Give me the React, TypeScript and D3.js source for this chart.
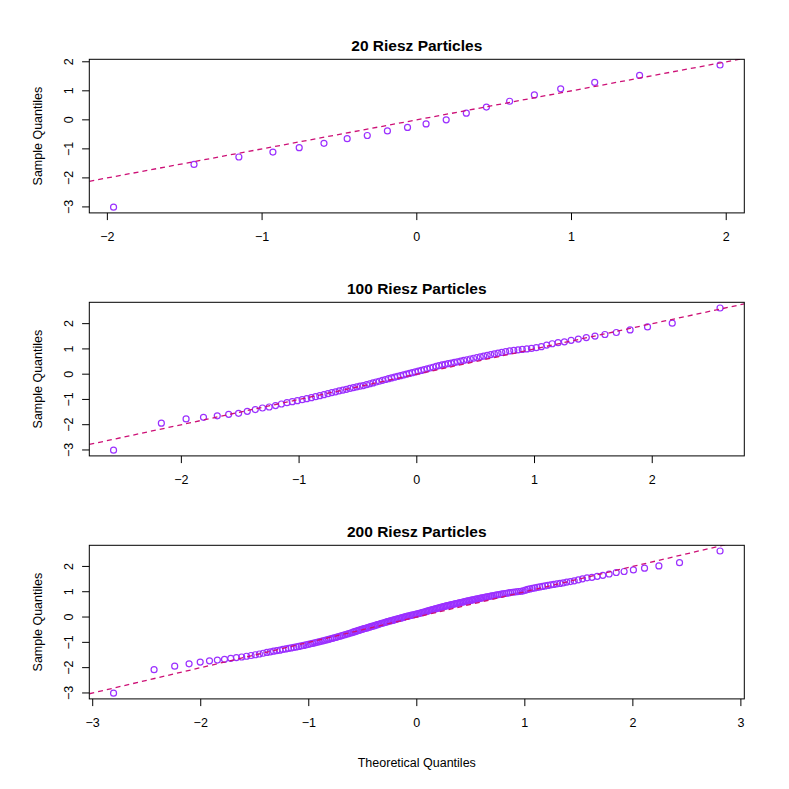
import React from 'react';
import * as d3 from 'd3';

// Theoretical (x) and sample (y) quantiles for each panel
const theo20 = [-1.96, -1.44, -1.15, -0.93, -0.76, -0.6, -0.45, -0.32, -0.19, -0.06,
  0.06, 0.19, 0.32, 0.45, 0.6, 0.76, 0.93, 1.15, 1.44, 1.96];
const sample20 = [-3.01, -1.535, -1.28, -1.11, -0.96, -0.81, -0.65, -0.54, -0.38, -0.26,
  -0.14, 0.0, 0.23, 0.44, 0.64, 0.86, 1.07, 1.29, 1.53, 1.89];

const theo100 = [-2.576, -2.17, -1.96, -1.812, -1.695, -1.598, -1.514, -1.44, -1.372, -1.311,
  -1.254, -1.2, -1.15, -1.103, -1.058, -1.015, -0.974, -0.935, -0.896, -0.86,
  -0.824, -0.789, -0.755, -0.722, -0.69, -0.659, -0.628, -0.598, -0.568, -0.539,
  -0.51, -0.482, -0.454, -0.426, -0.399, -0.372, -0.345, -0.319, -0.292, -0.266,
  -0.24, -0.215, -0.189, -0.164, -0.138, -0.113, -0.088, -0.063, -0.038, -0.0125,
  0.0125, 0.038, 0.063, 0.088, 0.113, 0.138, 0.164, 0.189, 0.215, 0.24,
  0.266, 0.292, 0.319, 0.345, 0.372, 0.399, 0.426, 0.454, 0.482, 0.51,
  0.539, 0.568, 0.598, 0.628, 0.659, 0.69, 0.722, 0.755, 0.789, 0.824,
  0.86, 0.896, 0.935, 0.974, 1.015, 1.058, 1.103, 1.15, 1.2, 1.254,
  1.311, 1.372, 1.44, 1.514, 1.598, 1.695, 1.812, 1.96, 2.17, 2.576];
const sample100 = [-3.01, -1.94, -1.77, -1.71, -1.65, -1.59, -1.55, -1.47, -1.4, -1.34,
  -1.3, -1.245, -1.18, -1.13, -1.09, -1.05, -1.01, -0.97, -0.93, -0.89,
  -0.85, -0.81, -0.77, -0.73, -0.7, -0.66, -0.63, -0.6, -0.565, -0.535,
  -0.505, -0.475, -0.45, -0.415, -0.38, -0.345, -0.31, -0.28, -0.245, -0.21,
  -0.18, -0.15, -0.12, -0.09, -0.06, -0.03, 0.0, 0.03, 0.06, 0.09,
  0.12, 0.15, 0.18, 0.21, 0.245, 0.275, 0.305, 0.335, 0.365, 0.39,
  0.415, 0.44, 0.465, 0.49, 0.52, 0.545, 0.57, 0.6, 0.63, 0.66,
  0.685, 0.715, 0.745, 0.775, 0.8, 0.83, 0.86, 0.89, 0.92, 0.94,
  0.96, 0.98, 1.0, 1.02, 1.05, 1.09, 1.15, 1.205, 1.245, 1.28,
  1.34, 1.39, 1.45, 1.51, 1.57, 1.65, 1.75, 1.87, 2.02, 2.62];

const theo200 = [-2.807, -2.432, -2.241, -2.108, -2.005, -1.919, -1.846, -1.78, -1.722, -1.67,
  -1.621, -1.576, -1.534, -1.495, -1.457, -1.422, -1.388, -1.356, -1.326, -1.296,
  -1.267, -1.24, -1.213, -1.188, -1.163, -1.138, -1.115, -1.092, -1.069, -1.047,
  -1.026, -1.005, -0.984, -0.964, -0.944, -0.925, -0.906, -0.887, -0.868, -0.85,
  -0.832, -0.815, -0.798, -0.781, -0.764, -0.747, -0.731, -0.714, -0.698, -0.683,
  -0.667, -0.651, -0.636, -0.62, -0.605, -0.59, -0.576, -0.561, -0.546, -0.532,
  -0.517, -0.503, -0.489, -0.475, -0.461, -0.447, -0.433, -0.419, -0.405, -0.392,
  -0.378, -0.365, -0.351, -0.338, -0.325, -0.311, -0.298, -0.285, -0.272, -0.259,
  -0.246, -0.233, -0.22, -0.208, -0.195, -0.182, -0.169, -0.157, -0.144, -0.132,
  -0.119, -0.107, -0.094, -0.082, -0.069, -0.056, -0.044, -0.031, -0.019, -0.006,
  0.006, 0.019, 0.031, 0.044, 0.056, 0.069, 0.082, 0.094, 0.107, 0.119,
  0.132, 0.144, 0.157, 0.169, 0.182, 0.195, 0.208, 0.22, 0.233, 0.246,
  0.259, 0.272, 0.285, 0.298, 0.311, 0.325, 0.338, 0.351, 0.365, 0.378,
  0.392, 0.405, 0.419, 0.433, 0.447, 0.461, 0.475, 0.489, 0.503, 0.517,
  0.532, 0.546, 0.561, 0.576, 0.59, 0.605, 0.62, 0.636, 0.651, 0.667,
  0.683, 0.698, 0.714, 0.731, 0.747, 0.764, 0.781, 0.798, 0.815, 0.832,
  0.85, 0.868, 0.887, 0.906, 0.925, 0.944, 0.964, 0.984, 1.005, 1.026,
  1.047, 1.069, 1.092, 1.115, 1.138, 1.163, 1.188, 1.213, 1.24, 1.267,
  1.296, 1.326, 1.356, 1.388, 1.422, 1.457, 1.495, 1.534, 1.576, 1.621,
  1.67, 1.722, 1.78, 1.846, 1.919, 2.005, 2.108, 2.241, 2.432, 2.807];
const sample200 = [-3.01, -2.08, -1.94, -1.85, -1.78, -1.73, -1.7, -1.67, -1.63, -1.6,
  -1.58, -1.55, -1.52, -1.49, -1.46, -1.43, -1.4, -1.38, -1.35, -1.33,
  -1.31, -1.28, -1.26, -1.24, -1.22, -1.2, -1.18, -1.16, -1.14, -1.12,
  -1.1, -1.08, -1.06, -1.04, -1.02, -1.0, -0.98, -0.96, -0.94, -0.92,
  -0.9, -0.88, -0.86, -0.84, -0.82, -0.8, -0.78, -0.76, -0.74, -0.72,
  -0.7, -0.68, -0.66, -0.64, -0.62, -0.6, -0.58, -0.56, -0.54, -0.52,
  -0.5, -0.48, -0.46, -0.445, -0.43, -0.41, -0.39, -0.37, -0.355, -0.34,
  -0.32, -0.3, -0.285, -0.27, -0.25, -0.235, -0.22, -0.2, -0.185, -0.17,
  -0.155, -0.14, -0.125, -0.11, -0.095, -0.08, -0.065, -0.05, -0.035, -0.02,
  -0.005, 0.01, 0.025, 0.035, 0.05, 0.065, 0.075, 0.09, 0.1, 0.115,
  0.125, 0.14, 0.155, 0.17, 0.185, 0.2, 0.215, 0.23, 0.245, 0.26,
  0.275, 0.29, 0.305, 0.32, 0.335, 0.35, 0.365, 0.38, 0.395, 0.41,
  0.425, 0.44, 0.45, 0.465, 0.48, 0.49, 0.505, 0.52, 0.53, 0.545,
  0.56, 0.57, 0.585, 0.6, 0.61, 0.625, 0.64, 0.65, 0.665, 0.68,
  0.69, 0.705, 0.72, 0.73, 0.745, 0.76, 0.77, 0.785, 0.8, 0.81,
  0.825, 0.84, 0.85, 0.865, 0.88, 0.89, 0.905, 0.915, 0.93, 0.94,
  0.955, 0.965, 0.98, 0.99, 1.0, 1.01, 1.02, 1.035, 1.06, 1.09,
  1.11, 1.13, 1.15, 1.17, 1.19, 1.21, 1.23, 1.25, 1.27, 1.29,
  1.31, 1.33, 1.35, 1.38, 1.4, 1.43, 1.47, 1.51, 1.55, 1.57,
  1.61, 1.65, 1.7, 1.76, 1.8, 1.86, 1.93, 2.02, 2.15, 2.61];

const titles = ['20 Riesz Particles', '100 Riesz Particles', '200 Riesz Particles'];
const xTicks = [[-2, -1, 0, 1, 2], [-2, -1, 0, 1, 2], [-3, -2, -1, 0, 1, 2, 3]];
const yTicks = [[-3, -2, -1, 0, 1, 2], [-3, -2, -1, 0, 1, 2], [-3, -2, -1, 0, 1, 2]];

const W = 789;
const H = 789;
const left = 89.3;
const right = 744.3;
const panelTops = [59.3, 302.3, 545.3];
const panelH = 153.6;
const font = '"Liberation Sans", Arial, Helvetica, sans-serif';
const pointColor = '#9b30ff';
const lineColor = '#cd1076';

// R pads the data range by 4% on each side
const padded = (vals: number[]): [number, number] => {
  const [lo, hi] = d3.extent(vals) as [number, number];
  const pad = (hi - lo) * 0.04;
  return [lo - pad, hi + pad];
};

const fmt = (d: number) => (d < 0 ? `\u2212${Math.abs(d)}` : `${d}`);

const Panel = ({ idx, xs, ys }: { idx: number; xs: number[]; ys: number[] }) => {
  const top = panelTops[idx];
  const bottom = top + panelH;
  const x = d3.scaleLinear().domain(padded(xs)).range([left, right]);
  const y = d3.scaleLinear().domain(padded(ys)).range([bottom, top]);
  const [x0, x1] = x.domain();
  const line = d3.line<number>().x(d => x(d)).y(d => y(d));
  const clipId = `clip-${idx}`;

  return (
    <g>
      <defs>
        <clipPath id={clipId}>
          <rect x={left} y={top} width={right - left} height={panelH} />
        </clipPath>
      </defs>
      <text x={(left + right) / 2} y={top - 8.8} textAnchor="middle"
        fontWeight="bold" fontSize={15.5} fontFamily={font}>{titles[idx]}</text>

      {/* x axis */}
      {xTicks[idx].map(t => (
        <g key={`x${t}`}>
          <line x1={x(t)} x2={x(t)} y1={bottom} y2={bottom + 7.2} stroke="#000" />
          <text x={x(t)} y={bottom + 27.6} textAnchor="middle" fontSize={12.5}
            fontFamily={font}>{fmt(t)}</text>
        </g>
      ))}

      {/* y axis */}
      {yTicks[idx].map(t => (
        <g key={`y${t}`}>
          <line x1={left - 7.2} x2={left} y1={y(t)} y2={y(t)} stroke="#000" />
          <text transform={`translate(${73.3},${y(t)}) rotate(-90)`} textAnchor="middle"
            fontSize={12.5} fontFamily={font}>{fmt(t)}</text>
        </g>
      ))}
      <text transform={`translate(${41.6},${(top + bottom) / 2}) rotate(-90)`}
        textAnchor="middle" fontSize={12.5} fontFamily={font}>Sample Quantiles</text>

      {/* points */}
      {xs.map((v, i) => (
        <circle key={i} cx={x(v)} cy={y(ys[i])} r={3} fill="none"
          stroke={pointColor} strokeWidth={1.2} />
      ))}

      {/* reference line y = x */}
      <path d={line([x0, x1]) ?? ''} fill="none" stroke={lineColor} strokeWidth={1.3}
        strokeDasharray="5,4" clipPath={`url(#${clipId})`} />

      <rect x={left} y={top} width={right - left} height={panelH} fill="none" stroke="#000" />
    </g>
  );
};

export default function App() {
  return (
    <svg width={W} height={H} style={{ position: 'absolute', left: 0, top: 0, background: '#fff' }}>
      <rect width={W} height={H} fill="#fff" />
      <Panel idx={0} xs={theo20} ys={sample20} />
      <Panel idx={1} xs={theo100} ys={sample100} />
      <Panel idx={2} xs={theo200} ys={sample200} />
      <text x={(left + right) / 2} y={766.5} textAnchor="middle" fontSize={12.5}
        fontFamily={font}>Theoretical Quantiles</text>
    </svg>
  );
}
